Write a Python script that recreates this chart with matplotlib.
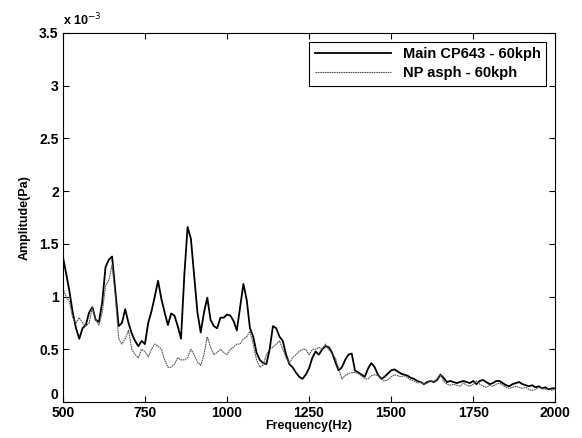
import numpy as np
import matplotlib
matplotlib.use('Agg')
import matplotlib.pyplot as plt

# frequency grid (Hz), 10 Hz steps
freq = np.arange(500, 2001, 10)

# amplitudes in units of 1e-3 Pa
main_cp643 = [
    1.38, 1.22, 1.05, 0.85, 0.70, 0.60, 0.70, 0.73, 0.85, 0.90,
    0.78, 0.76, 0.95, 1.28, 1.35, 1.38, 1.05, 0.72, 0.75, 0.88,
    0.75, 0.65, 0.58, 0.53, 0.58, 0.55, 0.75, 0.86, 1.00, 1.15,
    0.98, 0.85, 0.73, 0.84, 0.82, 0.72, 0.60, 1.20, 1.66, 1.55,
    1.20, 0.85, 0.66, 0.85, 0.99, 0.78, 0.72, 0.70, 0.80, 0.80,
    0.83, 0.82, 0.77, 0.68, 0.90, 1.12, 0.97, 0.70, 0.62, 0.47,
    0.40, 0.37, 0.36, 0.50, 0.72, 0.70, 0.62, 0.58, 0.45, 0.36,
    0.33, 0.28, 0.24, 0.22, 0.26, 0.32, 0.42, 0.48, 0.45, 0.50,
    0.53, 0.52, 0.47, 0.38, 0.30, 0.33, 0.40, 0.45, 0.46, 0.30,
    0.28, 0.26, 0.24, 0.32, 0.37, 0.33, 0.26, 0.22, 0.24, 0.27,
    0.30, 0.31, 0.29, 0.27, 0.26, 0.25, 0.23, 0.22, 0.20, 0.19,
    0.17, 0.19, 0.20, 0.19, 0.21, 0.26, 0.23, 0.19, 0.20, 0.19,
    0.18, 0.19, 0.20, 0.19, 0.18, 0.20, 0.17, 0.20, 0.21, 0.19,
    0.17, 0.18, 0.20, 0.20, 0.18, 0.16, 0.15, 0.17, 0.18, 0.19,
    0.17, 0.16, 0.15, 0.16, 0.14, 0.15, 0.13, 0.14, 0.12, 0.13,
    0.13,
]

np_asph = [
    1.08, 1.00, 0.95, 0.80, 0.75, 0.80, 0.75, 0.72, 0.75, 0.90,
    0.78, 0.73, 0.85, 1.10, 1.15, 1.30, 1.00, 0.60, 0.55, 0.60,
    0.68, 0.50, 0.45, 0.42, 0.50, 0.48, 0.43, 0.50, 0.55, 0.53,
    0.50, 0.40, 0.33, 0.33, 0.36, 0.42, 0.40, 0.40, 0.42, 0.50,
    0.45, 0.38, 0.35, 0.45, 0.62, 0.52, 0.45, 0.47, 0.50, 0.47,
    0.45, 0.50, 0.52, 0.55, 0.55, 0.60, 0.62, 0.67, 0.55, 0.40,
    0.33, 0.35, 0.45, 0.50, 0.52, 0.55, 0.58, 0.50, 0.42, 0.37,
    0.42, 0.45, 0.48, 0.50, 0.50, 0.45, 0.50, 0.50, 0.52, 0.50,
    0.55, 0.50, 0.46, 0.42, 0.32, 0.22, 0.25, 0.27, 0.28, 0.28,
    0.27, 0.25, 0.22, 0.22, 0.25, 0.26, 0.25, 0.22, 0.20, 0.21,
    0.24, 0.26, 0.25, 0.24, 0.25, 0.23, 0.21, 0.20, 0.18, 0.19,
    0.17, 0.18, 0.20, 0.19, 0.22, 0.26, 0.20, 0.17, 0.16, 0.17,
    0.16, 0.15, 0.18, 0.16, 0.15, 0.17, 0.20, 0.17, 0.15, 0.14,
    0.16, 0.15, 0.17, 0.18, 0.16, 0.14, 0.13, 0.14, 0.15, 0.14,
    0.13, 0.14, 0.12, 0.11, 0.12, 0.14, 0.13, 0.12, 0.13, 0.11,
    0.13,
]

labels = ['Main CP643 - 60kph', 'NP asph - 60kph']

plt.rcParams['font.family'] = ['Liberation Sans', 'DejaVu Sans']

fig = plt.figure(figsize=(5.82, 4.38), dpi=100)
ax = fig.add_axes([0.108, 0.082, 0.846, 0.843])

ax.plot(freq, main_cp643, color='black', lw=1.3, label=labels[0])
ax.plot(freq, np_asph, color='#555555', lw=0.8, ls=(0, (1.5, 0.6)), label=labels[1])

ax.set_xlim(500, 2000)
ax.set_ylim(0, 3.5)
ax.set_xticks([500, 750, 1000, 1250, 1500, 1750, 2000])
ax.set_yticks([0, 0.5, 1, 1.5, 2, 2.5, 3, 3.5])
ax.set_yticklabels(['0', '0.5', '1', '1.5', '2', '2.5', '3', '3.5'])
ax.tick_params(direction='in', top=True, right=True, length=4, labelsize=10)
ax.tick_params(axis='x', pad=3)
ax.tick_params(axis='y', pad=3)
for lab in ax.get_xticklabels() + ax.get_yticklabels():
    lab.set_fontweight('bold')
# lift the "0" so it clears the "500" below it
ax.get_yticklabels()[0].set_verticalalignment('bottom')

ax.set_xlabel('Frequency(Hz)', fontsize=9, fontweight='bold', labelpad=0)
ax.set_ylabel('Amplitude(Pa)', fontsize=9, fontweight='bold', labelpad=6)
ax.text(0.0, 1.012, r'x 10$^{-3}$', transform=ax.transAxes, fontsize=9,
        fontweight='bold', ha='left', va='bottom')

leg = ax.legend(loc='upper right', fontsize=10.5, fancybox=False, framealpha=1,
                edgecolor='black', handlelength=5.2, borderaxespad=0.6,
                labelspacing=0.3)
leg.get_frame().set_linewidth(0.8)
for t in leg.get_texts():
    t.set_fontweight('bold')

plt.savefig('out.png', dpi=100)
